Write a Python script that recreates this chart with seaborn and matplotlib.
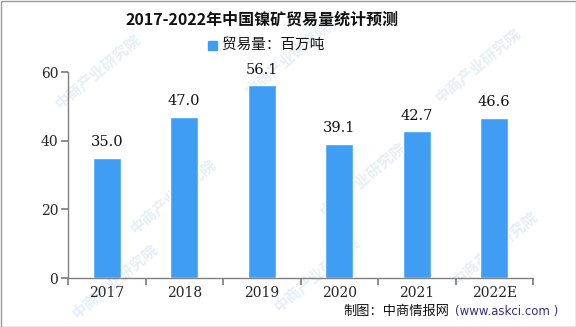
import matplotlib
matplotlib.use("Agg")
import matplotlib.pyplot as plt
import seaborn as sns
import pandas as pd
import numpy as np
from matplotlib.patches import Rectangle

years = ["2017", "2018", "2019", "2020", "2021", "2022E"]
volumes = [35.0, 47.0, 56.1, 39.1, 42.7, 46.6]
yticks = [0, 20, 40, 60]

sns.set_theme(style="white")
plt.rcParams["font.family"] = ["Noto Sans CJK SC", "DejaVu Sans"]

df = pd.DataFrame({"year": years, "volume": volumes})
bar_color = "#3f9ef3"
axis_color = "#808080"

fig = plt.figure(figsize=(5.76, 3.27), dpi=100)
ax = fig.add_axes([68 / 576, 1 - 278 / 327, 465 / 576, 206 / 327])
ax.set_zorder(1)
ax.patch.set_alpha(0)

sns.barplot(data=df, x="year", y="volume", color=bar_color, width=0.36,
            saturation=1, ax=ax, zorder=3)

ax.set_ylim(0, 60)
ax.set_xlim(-0.5, len(years) - 0.5)
ax.set_yticks(yticks)
ax.set_yticklabels([str(v) for v in yticks], fontsize=10, family="DejaVu Serif")
ax.set_xlabel("")
ax.set_ylabel("")

# category labels at bar centres, tick marks at category boundaries
ax.set_xticks(np.arange(-0.5, len(years), 1.0))
ax.set_xticklabels([])
ax.set_xticks(np.arange(len(years)), minor=True)
ax.set_xticklabels(years, minor=True, fontsize=10, family="DejaVu Serif")
ax.tick_params(axis="x", which="major", length=5, color=axis_color, direction="out")
ax.tick_params(axis="x", which="minor", length=0, pad=6)
ax.tick_params(axis="y", length=5, color=axis_color, direction="out", pad=2)
ax.tick_params(left=True, bottom=True)

for side in ["top", "right"]:
    ax.spines[side].set_visible(False)
for side in ["left", "bottom"]:
    ax.spines[side].set_color(axis_color)
    ax.spines[side].set_linewidth(1)

for i, v in enumerate(volumes):
    ax.text(i, v + 2.5, f"{v:.1f}", ha="center", va="bottom", fontsize=10.5,
            family="DejaVu Serif", color="#111111", zorder=4)

# faint watermark text behind the plot
for (wx, wy) in [(0.17, 0.78), (0.50, 0.82), (0.83, 0.80),
                 (0.30, 0.40), (0.63, 0.45), (0.20, 0.14), (0.55, 0.16), (0.86, 0.24)]:
    fig.text(wx, wy, "中商产业研究院", rotation=40, fontsize=11, color="#e6eff7",
             ha="center", va="center", zorder=0, fontweight="bold")

fig.text(262 / 576, 1 - 20 / 327, "2017-2022年中国镍矿贸易量统计预测", ha="center",
         va="center", fontsize=11.5, fontweight="bold", color="#111111")

# legend
fig.patches.append(Rectangle((208 / 576, 1 - 50 / 327), 9 / 576, 9 / 327,
                             transform=fig.transFigure, color=bar_color, figure=fig))
fig.text(222 / 576, 1 - 45 / 327, "贸易量：百万吨", ha="left", va="center",
         fontsize=10.5, color="#111111")

# source note
fig.text(343 / 576, 1 - 311 / 327, "制图：中商情报网", ha="left", va="center",
         fontsize=9.5, color="#111111")
fig.text(455 / 576, 1 - 311 / 327, "(www.askci.com )", ha="left", va="center",
         fontsize=8.5, family="DejaVu Sans", color="#3b2f7a")

# outer border
fig.patches.append(Rectangle((0.5 / 576, 0.5 / 327), 575 / 576, 326 / 327,
                             transform=fig.transFigure, fill=False,
                             edgecolor="#999999", linewidth=1, figure=fig))

fig.savefig("out.png", dpi=100)
